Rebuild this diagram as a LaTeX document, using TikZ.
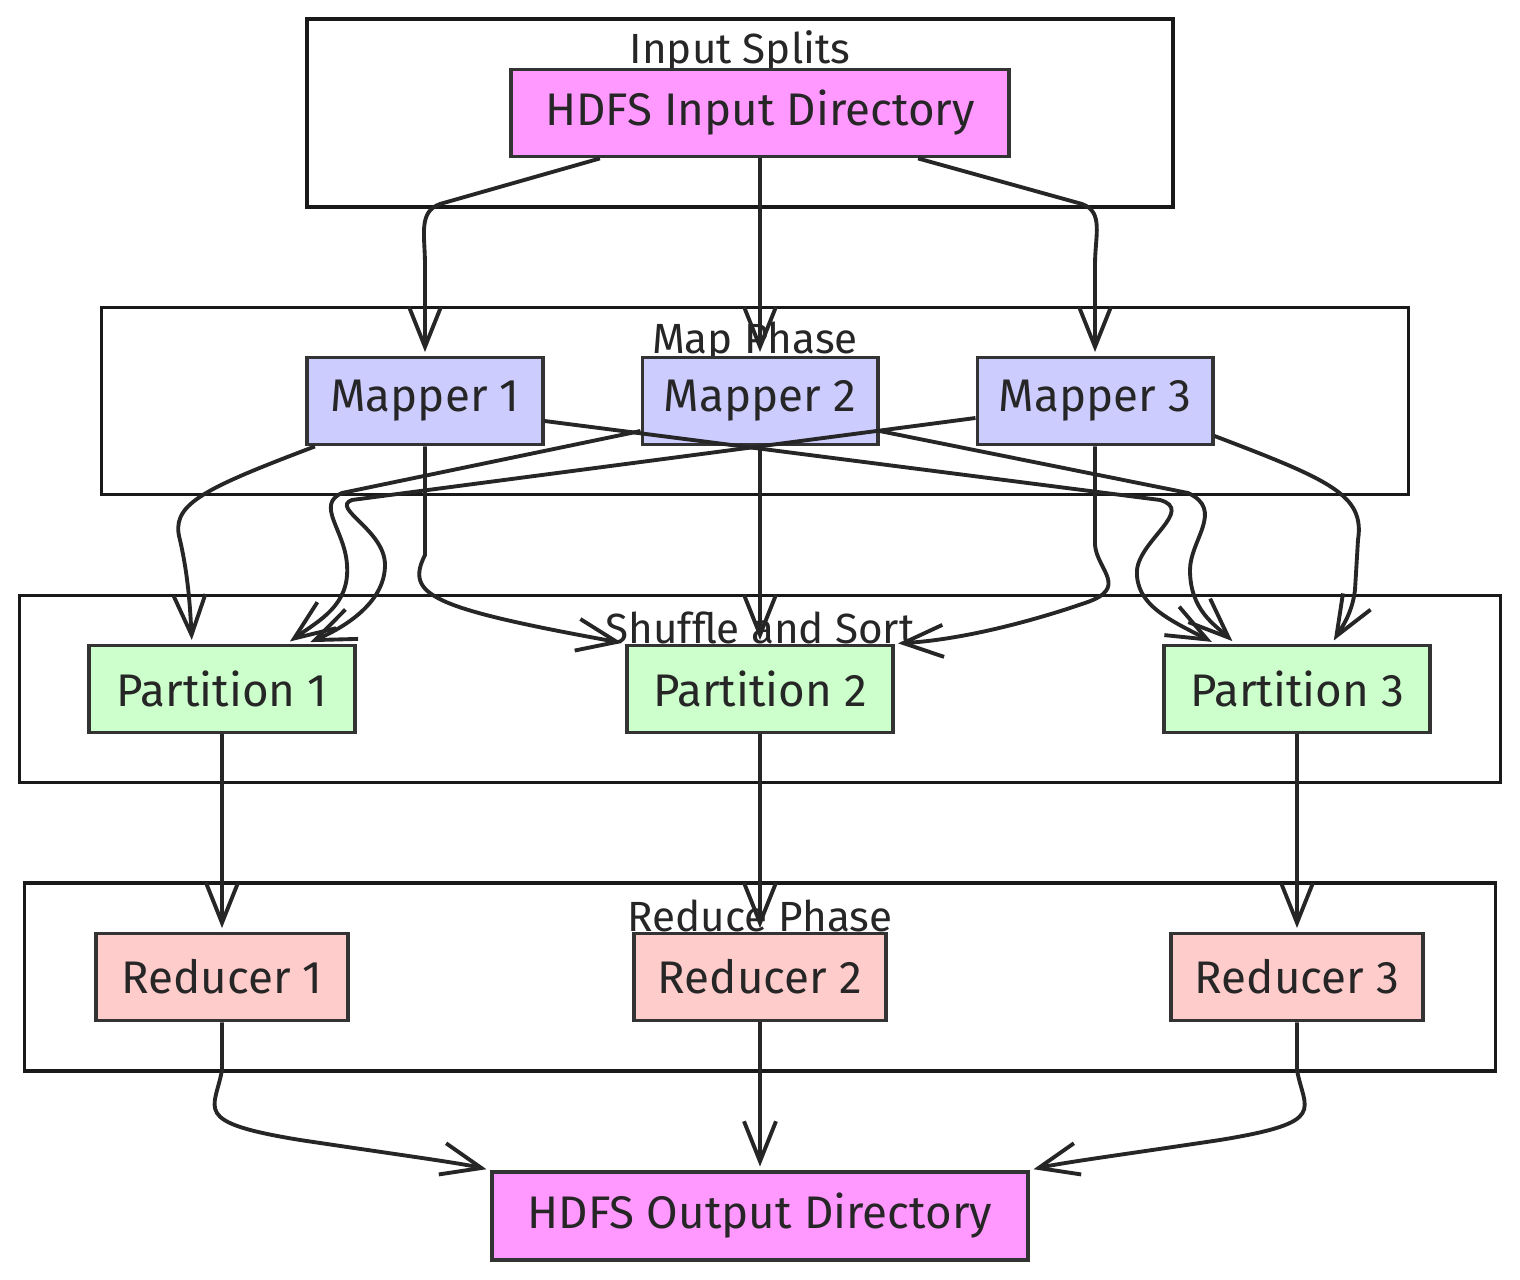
\documentclass[tikz,border=0pt]{standalone}
\usepackage{fontspec}
\setmainfont{Fira Sans}
\usetikzlibrary{arrows.meta}
\definecolor{hdfsfill}{HTML}{FF99FF}
\definecolor{mapfill}{HTML}{CCCCFF}
\definecolor{partfill}{HTML}{CCFFCC}
\definecolor{redfill}{HTML}{FFCCCC}
\definecolor{ink}{HTML}{333333}
\begin{document}
\begin{tikzpicture}[x=0.01cm,y=-0.01cm]
\tikzstyle{cluster}=[rectangle,draw=black!90,line width=1pt,inner sep=0pt]
\tikzstyle{lbl}=[font=\fontsize{12}{14}\selectfont,text=black!85,inner sep=0pt]
\tikzstyle{box}=[rectangle,draw=ink,line width=1.1pt,inner sep=0pt,minimum height=0.87cm,font=\fontsize{13}{15}\selectfont,text=black!85]
\tikzstyle{hdfs}=[box,fill=hdfsfill]
\tikzstyle{mapper}=[box,fill=mapfill,minimum width=2.35cm]
\tikzstyle{part}=[box,fill=partfill,minimum width=2.65cm]
\tikzstyle{reducer}=[box,fill=redfill,minimum width=2.52cm]
\tikzstyle{arrow}=[-{Straight Barb[length=4mm,width=3.2mm]},line width=1.1pt,draw=black!85,shorten >=1pt]
\useasboundingbox (0,0) rectangle (1520,1280);
\node (splits) [cluster,minimum width=8.66cm,minimum height=1.88cm] at (740,113) {};
\node (mapph) [cluster,minimum width=13.06cm,minimum height=1.87cm] at (755,401) {};
\node (shuffle) [cluster,minimum width=14.8cm,minimum height=1.87cm] at (760,689) {};
\node (reduceph) [cluster,minimum width=14.7cm,minimum height=1.88cm] at (760,977) {};
\node (splitslbl) [lbl] at (740,52) {Input Splits};
\node (mapphlbl) [lbl] at (755,342) {Map Phase};
\node (shufflelbl) [lbl] at (760,628) {Shuffle and Sort};
\node (reducephlbl) [lbl] at (760,916) {Reduce Phase};
\node (hin) [hdfs,minimum width=4.97cm] at (760,113) {HDFS Input Directory};
\node (m1) [mapper] at (425,401) {Mapper 1};
\node (m2) [mapper] at (760,401) {Mapper 2};
\node (m3) [mapper] at (1095,401) {Mapper 3};
\node (p1) [part] at (222,689) {Partition 1};
\node (p2) [part] at (760,689) {Partition 2};
\node (p3) [part] at (1297,689) {Partition 3};
\node (r1) [reducer] at (222,977) {Reducer 1};
\node (r2) [reducer] at (760,977) {Reducer 2};
\node (r3) [reducer] at (1297,977) {Reducer 3};
\node (hout) [hdfs,minimum width=5.36cm,minimum height=0.88cm] at (760,1216) {HDFS Output Directory};
\draw [arrow] ([xshift=-1.6cm]hin.south) -- (440,204) .. controls (418,212) and (425,235) .. (425,265) -- (m1.north);
\draw [arrow] (hin.south) -- (m2.north);
\draw [arrow] ([xshift=1.58cm]hin.south) -- (1082,204) .. controls (1104,212) and (1095,235) .. (1095,265) -- (m3.north);
\draw [arrow] ([xshift=-1.1cm]m1.south) .. controls (200,490) and (170,505) .. (180,540) .. controls (188,575) and (190,605) .. ([xshift=-0.3cm]p1.north);
\draw [arrow] (m1.south) -- (425,555) .. controls (405,595) and (430,608) .. (p2.north west);
\draw [arrow] ([yshift=-0.2cm]m1.east) -- (1160,500) .. controls (1195,510) and (1140,540) .. (1137,570) .. controls (1135,605) and (1170,620) .. ([xshift=-0.82cm]p3.north);
\draw [arrow] ([yshift=-0.3cm]m2.west) -- (342,493) .. controls (315,505) and (345,530) .. (347,565) .. controls (350,605) and (320,620) .. ([xshift=0.65cm]p1.north);
\draw [arrow] (m2.south) -- (p2.north);
\draw [arrow] ([yshift=-0.3cm]m2.east) -- (1188,493) .. controls (1225,510) and (1190,540) .. (1190,570) .. controls (1190,610) and (1215,625) .. ([xshift=-0.62cm]p3.north);
\draw [arrow] ([yshift=-0.17cm]m3.west) -- (352,500) .. controls (330,508) and (385,530) .. (385,565) .. controls (385,600) and (350,625) .. ([xshift=0.85cm]p1.north);
\draw [arrow] (m3.south) -- (1095,545) .. controls (1097,570) and (1130,588) .. (1085,603) .. controls (1030,622) and (960,640) .. (p2.north east);
\draw [arrow] ([yshift=-0.35cm]m3.east) .. controls (1330,480) and (1365,495) .. (1358,540) -- (1355,590) .. controls (1352,615) and (1340,630) .. ([xshift=0.35cm]p3.north);
\draw [arrow] (p1.south) -- (r1.north);
\draw [arrow] (p2.south) -- (r2.north);
\draw [arrow] (p3.south) -- (r3.north);
\draw [arrow] (r1.south) -- (222,1070) .. controls (215,1110) and (190,1122) .. (300,1140) .. controls (400,1155) and (460,1163) .. (hout.north west);
\draw [arrow] (r2.south) -- (hout.north);
\draw [arrow] (r3.south) -- (1297,1070) .. controls (1304,1110) and (1330,1122) .. (1220,1140) .. controls (1120,1155) and (1060,1163) .. (hout.north east);
\end{tikzpicture}
\end{document}
